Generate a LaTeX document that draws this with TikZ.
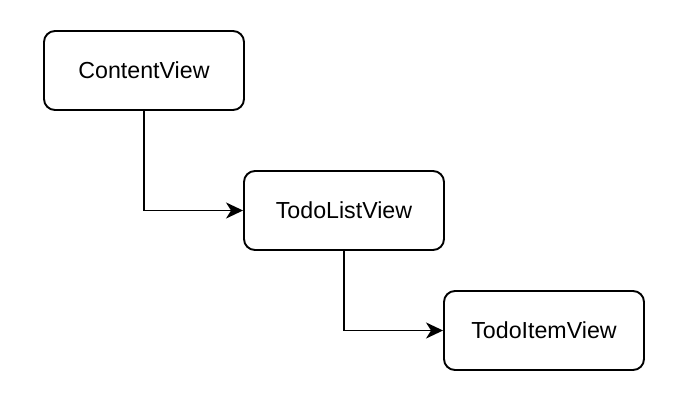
\documentclass[tikz,border=0pt]{standalone}
\usepackage{fontspec}
\setmainfont{Liberation Sans}
\usetikzlibrary{arrows.meta}
\begin{document}
\begin{tikzpicture}[x=1pt,y=-1pt,
  viewbox/.style={draw=black, line width=1.9pt, rounded corners=11pt, fill=white,
    minimum width=200pt, minimum height=79pt, inner sep=0pt,
    font=\fontsize{23.2}{28}\selectfont},
  conn/.style={draw=black, line width=1.9pt, -{Stealth[length=17pt,width=16pt,inset=5pt]}}]
\useasboundingbox (0,0) rectangle (686,400);
\node[viewbox] (cv) at (144,70.5) {ContentView};
\node[viewbox] (tl) at (344,210.5) {TodoListView};
\node[viewbox] (ti) at (544,330.5) {TodoItemView};
\draw[conn] (cv.south) |- (tl.west);
\draw[conn] (tl.south) |- (ti.west);
\end{tikzpicture}
\end{document}
